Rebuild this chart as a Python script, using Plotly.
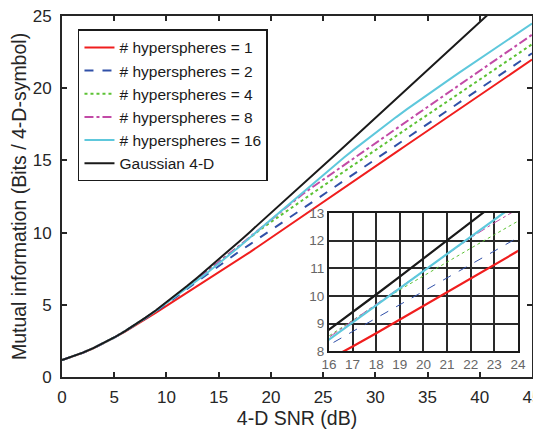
import plotly.graph_objects as go

snr_db = list(range(0, 46))

mi_gauss = [1.170, 1.409, 1.684, 1.997, 2.347, 2.736, 3.161, 3.620, 4.110, 4.627,
            5.170, 5.734, 6.316, 6.913, 7.522, 8.143, 8.772, 9.407, 10.049, 10.695,
            11.345, 11.998, 12.653, 13.309, 13.968, 14.628, 15.288, 15.950, 16.612, 17.274,
            17.937, 18.601, 19.264, 19.928, 20.591, 21.255, 21.919, 22.583, 23.247, 23.912,
            24.576, 25.240, 25.904, 26.568, 27.233, 27.897]

mi_hs1 = [1.170, 1.408, 1.682, 1.993, 2.340, 2.720, 3.120, 3.550, 3.990, 4.450,
          4.920, 5.380, 5.840, 6.300, 6.760, 7.220, 7.690, 8.170, 8.650, 9.140,
          9.630, 10.120, 10.620, 11.120, 11.620, 12.114, 12.608, 13.102, 13.596, 14.090,
          14.584, 15.078, 15.572, 16.066, 16.560, 17.054, 17.548, 18.042, 18.536, 19.030,
          19.524, 20.018, 20.512, 21.006, 21.500, 21.980]

mi_hs2 = [1.170, 1.409, 1.683, 1.996, 2.344, 2.730, 3.150, 3.590, 4.060, 4.550,
          5.050, 5.580, 6.110, 6.640, 7.170, 7.700, 8.220, 8.710, 9.190, 9.680,
          10.170, 10.650, 11.140, 11.620, 12.110, 12.600, 13.090, 13.580, 14.070, 14.560,
          15.050, 15.540, 16.030, 16.520, 17.010, 17.500, 17.990, 18.480, 18.970, 19.460,
          19.950, 20.440, 20.930, 21.420, 21.910, 22.420]

mi_hs4 = [1.170, 1.409, 1.684, 1.997, 2.346, 2.735, 3.160, 3.610, 4.090, 4.600,
          5.140, 5.700, 6.260, 6.830, 7.400, 7.980, 8.550, 9.120, 9.680, 10.220,
          10.730, 11.220, 11.720, 12.210, 12.710, 13.220, 13.730, 14.230, 14.730, 15.230,
          15.730, 16.220, 16.700, 17.190, 17.680, 18.160, 18.650, 19.140, 19.620, 20.110,
          20.600, 21.090, 21.570, 22.060, 22.550, 23.040]

mi_hs8 = [1.170, 1.409, 1.684, 1.997, 2.346, 2.735, 3.160, 3.610, 4.090, 4.600,
          5.130, 5.690, 6.250, 6.820, 7.380, 7.940, 8.500, 9.100, 9.700, 10.300,
          10.900, 11.500, 12.100, 12.640, 13.160, 13.670, 14.180, 14.690, 15.200, 15.700,
          16.200, 16.700, 17.200, 17.700, 18.200, 18.700, 19.200, 19.700, 20.200, 20.700,
          21.200, 21.700, 22.200, 22.700, 23.200, 23.700]

mi_hs16 = [1.170, 1.409, 1.684, 1.997, 2.346, 2.735, 3.160, 3.610, 4.090, 4.600,
           5.120, 5.660, 6.190, 6.730, 7.270, 7.840, 8.420, 9.040, 9.660, 10.280,
           10.900, 11.520, 12.140, 12.760, 13.380, 14.000, 14.610, 15.200, 15.780, 16.350,
           16.910, 17.460, 18.000, 18.530, 19.050, 19.560, 20.060, 20.560, 21.060, 21.550,
           22.040, 22.530, 23.020, 23.510, 24.000, 24.480]

names = ["# hyperspheres = 1", "# hyperspheres = 2", "# hyperspheres = 4",
         "# hyperspheres = 8", "# hyperspheres = 16", "Gaussian 4-D"]

x_ticks = [0, 5, 10, 15, 20, 25, 30, 35, 40, 45]
y_ticks = [0, 5, 10, 15, 20, 25]
inset_x_ticks = [16, 17, 18, 19, 20, 21, 22, 23, 24]
inset_y_ticks = [8, 9, 10, 11, 12, 13]

series = [mi_hs1, mi_hs2, mi_hs4, mi_hs8, mi_hs16, mi_gauss]
colors = ["#f01e1e", "#3050a8", "#5cc234", "#c24aa6", "#5ec8dc", "#1a1a1a"]
dashes = ["solid", "dash", "dot", "dashdot", "solid", "solid"]
main_w = [2, 2, 2, 2, 2, 2]
inset_w = [2.2, 1, 1, 1, 2.2, 2.2]

FONT = "Liberation Sans, Arial, sans-serif"
AX = "#262626"

fig = go.Figure()
for s, n, c, d, w in zip(series, names, colors, dashes, main_w):
    fig.add_trace(go.Scatter(x=snr_db, y=s, name=n, mode="lines",
                             line=dict(color=c, dash=d, width=w),
                             xaxis="x", yaxis="y"))
for s, n, c, d, w in zip(series, names, colors, dashes, inset_w):
    fig.add_trace(go.Scatter(x=snr_db, y=s, name=n, mode="lines", showlegend=False,
                             line=dict(color=c, dash=d, width=w),
                             xaxis="x2", yaxis="y2"))

# the page body adds an 8px offset, so the figure is 8px smaller than the window
fig.update_layout(
    width=533, height=421,
    margin=dict(l=54, r=9, t=8, b=52),
    paper_bgcolor="white", plot_bgcolor="white",
    font=dict(family=FONT, size=17, color=AX),
    showlegend=True,
    legend=dict(x=0.034, y=0.963, xanchor="left", yanchor="top",
                bgcolor="white", bordercolor="#1a1a1a", borderwidth=1.5,
                font=dict(size=15.5, color="#1a1a1a"), tracegroupgap=0,
                itemwidth=30),
    xaxis=dict(domain=[0, 1], range=[0, 45], tickvals=x_ticks, automargin=False,
               ticks="inside", ticklen=5, tickwidth=2, tickcolor=AX,
               showline=True, linecolor=AX, linewidth=2, mirror="ticks",
               showgrid=False, zeroline=False, tickfont=dict(size=17),
               ticklabelstandoff=4, ticklabeloverflow="allow",
               title=dict(text="4-D SNR (dB)", standoff=2,
                          font=dict(size=19.5, color=AX))),
    yaxis=dict(domain=[0, 1], range=[0, 25], tickvals=y_ticks, automargin=False,
               ticks="inside", ticklen=5, tickwidth=2, tickcolor=AX,
               showline=True, linecolor=AX, linewidth=2, mirror="ticks",
               showgrid=False, zeroline=False, tickfont=dict(size=17),
               ticklabelstandoff=5, ticklabeloverflow="allow",
               title=dict(text="Mutual information (Bits / 4-D-symbol)", standoff=2,
                          font=dict(size=19.5, color=AX))),
    xaxis2=dict(domain=[0.568, 0.970], anchor="y2", range=[16, 24], automargin=False,
                tickvals=inset_x_ticks, ticks="", showline=True, linecolor="#1a1a1a",
                linewidth=2, mirror=True, showgrid=True, gridcolor="#2a2a2a",
                gridwidth=1.5, zeroline=False,
                tickfont=dict(size=13.5, color="#666666")),
    yaxis2=dict(domain=[0.0716, 0.4545], anchor="x2", range=[8, 13], automargin=False,
                tickvals=inset_y_ticks, ticks="", showline=True, linecolor="#1a1a1a",
                linewidth=2, mirror=True, showgrid=True, gridcolor="#2a2a2a",
                gridwidth=1.5, zeroline=False,
                tickfont=dict(size=13.5, color="#666666")),
)

fig.write_html("out.html")
